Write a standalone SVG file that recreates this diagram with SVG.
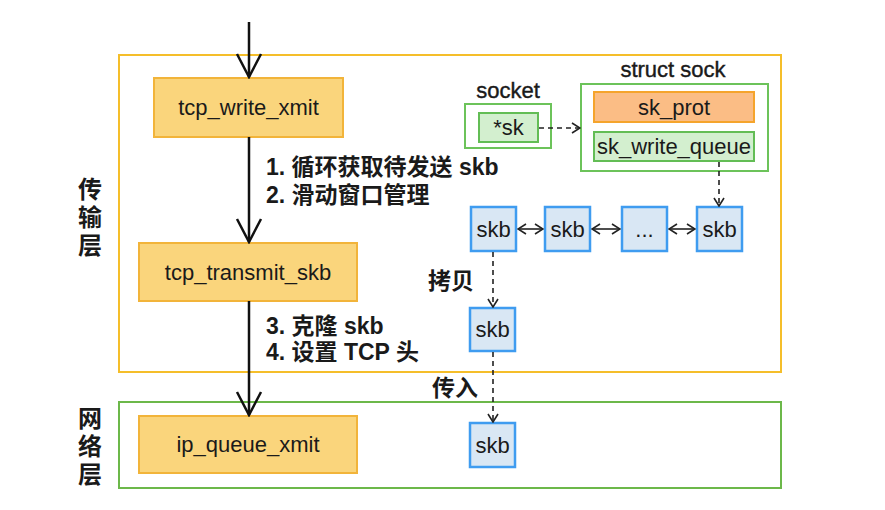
<svg xmlns="http://www.w3.org/2000/svg" width="885" height="510" viewBox="0 0 885 510">
<defs>
<style>
.t{font-family:"Liberation Sans","Noto Sans CJK SC",sans-serif;fill:#1a1a1a}
.n{font-size:22px;text-anchor:middle;dominant-baseline:central}
.b{font-weight:bold;font-size:23px}
.lay{font-weight:bold;font-size:24px;text-anchor:middle}
.yel{fill:#fad57c;stroke:#f2b43a;stroke-width:2}
.skb{fill:#d9e7f4;stroke:#3f9cf0;stroke-width:2.5}
.gbox{fill:#fff;stroke:#6cc35a;stroke-width:2}
.gin{fill:#d3efcf;stroke:#63bd55;stroke-width:2}
.main{stroke:#111;stroke-width:2.5;fill:none}
.dash{stroke:#222;stroke-width:1.6;fill:none;stroke-dasharray:5,4}
.dbl{stroke:#222;stroke-width:1.6;fill:none}
</style>
<marker id="big" markerUnits="userSpaceOnUse" viewBox="0 0 26 28" markerWidth="26" markerHeight="28" refX="24" refY="14" orient="auto">
<path d="M1,2 L24,14 L1,26" fill="none" stroke="#111" stroke-width="2.5"/>
</marker>
<marker id="sm" markerUnits="userSpaceOnUse" viewBox="0 0 10 12" markerWidth="10" markerHeight="12" refX="9" refY="6" orient="auto-start-reverse">
<path d="M1,1 L9,6 L1,11" fill="none" stroke="#222" stroke-width="1.6"/>
</marker>
</defs>
<rect width="885" height="510" fill="#fff"/>

<g id="transport-layer">
<rect x="119" y="55" width="662" height="317" fill="none" stroke="#f5be2a" stroke-width="2"/>
<text class="t lay" x="90" y="198">传</text>
<text class="t lay" x="90" y="226">输</text>
<text class="t lay" x="90" y="254">层</text>
</g>
<g id="network-layer">
<rect x="119" y="402" width="662" height="86" fill="none" stroke="#6cb84a" stroke-width="2"/>
<text class="t lay" x="90" y="427">网</text>
<text class="t lay" x="90" y="455">络</text>
<text class="t lay" x="90" y="483">层</text>
</g>

<g id="tcp_write_xmit">
<rect class="yel" x="154" y="78" width="189" height="59"/>
<text class="t n" x="248.5" y="107.5">tcp_write_xmit</text>
</g>
<g id="tcp_transmit_skb">
<rect class="yel" x="139" y="243" width="218" height="58"/>
<text class="t n" x="248" y="272">tcp_transmit_skb</text>
</g>
<g id="ip_queue_xmit">
<rect class="yel" x="139" y="416" width="218" height="57"/>
<text class="t n" x="248" y="444.5">ip_queue_xmit</text>
</g>

<g id="socket">
<text class="t" x="508" y="98" font-size="22" text-anchor="middle" stroke="#1a1a1a" stroke-width="0.4">socket</text>
<rect class="gbox" x="465" y="104" width="86" height="44"/>
<g id="sk-ptr">
<rect class="gin" x="479" y="113" width="59" height="29"/>
<text class="t n" x="508.5" y="127.5">*sk</text>
</g>
</g>

<g id="struct-sock">
<text class="t" x="673" y="77" font-size="22" text-anchor="middle" stroke="#1a1a1a" stroke-width="0.4">struct sock</text>
<rect class="gbox" x="581" y="84" width="187" height="87"/>
<g id="sk_prot">
<rect x="594" y="92" width="160" height="30" fill="#fbbd85" stroke="#f5a42c" stroke-width="2"/>
<text class="t n" x="674" y="107">sk_prot</text>
</g>
<g id="sk_write_queue">
<rect class="gin" x="594" y="132" width="160" height="29"/>
<text class="t n" x="674" y="146.5" font-size="21">sk_write_queue</text>
</g>
</g>

<g id="skb1"><rect class="skb" x="471" y="207" width="45" height="44"/><text class="t n" x="493.5" y="229">skb</text></g>
<g id="skb2"><rect class="skb" x="545" y="207" width="45" height="44"/><text class="t n" x="567.5" y="229">skb</text></g>
<g id="skb-more"><rect class="skb" x="622" y="207" width="45" height="44"/><text class="t n" x="644.5" y="229">...</text></g>
<g id="skb4"><rect class="skb" x="697" y="207" width="45" height="44"/><text class="t n" x="719.5" y="229">skb</text></g>
<g id="skb-copy"><rect class="skb" x="470" y="308" width="45" height="43"/><text class="t n" x="492.5" y="329.5">skb</text></g>
<g id="skb-ip"><rect class="skb" x="470" y="423" width="45" height="44"/><text class="t n" x="492.5" y="445">skb</text></g>

<g id="connectors">
<line class="main" x1="249" y1="22" x2="249" y2="77" marker-end="url(#big)"/>
<line class="main" x1="249" y1="137" x2="249" y2="242" marker-end="url(#big)"/>
<line class="main" x1="249" y1="301" x2="249" y2="415" marker-end="url(#big)"/>
<line class="dash" x1="539" y1="128" x2="580" y2="128" marker-end="url(#sm)"/>
<line class="dash" x1="719" y1="162" x2="719" y2="206" marker-end="url(#sm)"/>
<line class="dbl" x1="518" y1="229" x2="543" y2="229" marker-start="url(#sm)" marker-end="url(#sm)"/>
<line class="dbl" x1="592" y1="229" x2="620" y2="229" marker-start="url(#sm)" marker-end="url(#sm)"/>
<line class="dbl" x1="669" y1="229" x2="695" y2="229" marker-start="url(#sm)" marker-end="url(#sm)"/>
<line class="dash" x1="493" y1="252" x2="493" y2="307" marker-end="url(#sm)"/>
<line class="dash" x1="493" y1="352" x2="493" y2="422" marker-end="url(#sm)"/>
</g>

<g id="labels">
<text class="t b" x="266" y="175">1. 循环获取待发送 skb</text>
<text class="t b" x="266" y="203">2. 滑动窗口管理</text>
<text class="t b" x="266" y="334">3. 克隆 skb</text>
<text class="t b" x="266" y="360">4. 设置 TCP 头</text>
<text class="t b" x="451" y="289" text-anchor="middle">拷贝</text>
<text class="t b" x="455" y="396" text-anchor="middle">传入</text>
</g>
</svg>
